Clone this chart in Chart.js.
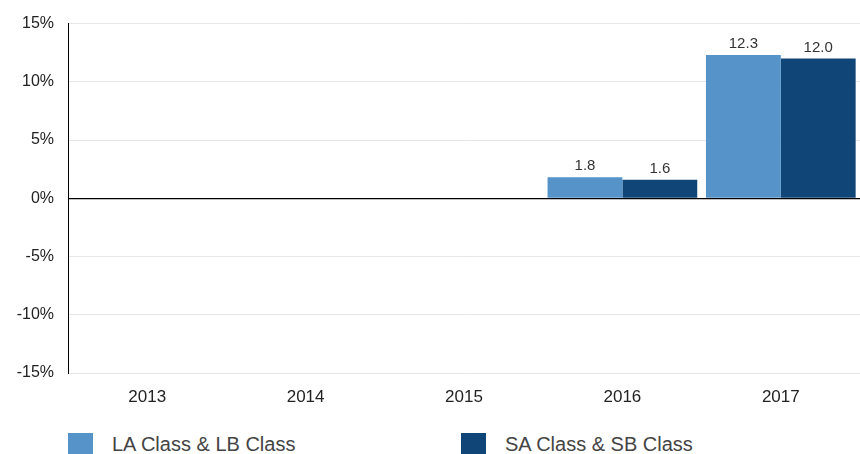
<!DOCTYPE html>
<html>
<head>
<meta charset="utf-8">
<script src="https://cdn.jsdelivr.net/npm/chart.js@4"></script>
<style>
  body { margin: 0; background: #fff; font-family: "Liberation Sans", Arial, sans-serif; }
  #wrap { position: relative; width: 860px; height: 454px; }
  #chartBox { position: absolute; left: 0; top: 0; width: 860px; height: 420px; }
  .leg { position: absolute; top: 433px; height: 22px; display: flex; align-items: center; font-size: 20px; color: #444; }
  .leg span.box { display: inline-block; width: 25px; height: 22px; margin-right: 19px; }
</style>
</head>
<body>
<div id="wrap">
  <div id="chartBox"><canvas id="chart1"></canvas></div>
  <div class="leg" style="left:68px"><span class="box" style="background:#5593c8"></span>LA Class &amp; LB Class</div>
  <div class="leg" style="left:461px"><span class="box" style="background:#104677"></span>SA Class &amp; SB Class</div>
</div>
<script>
var years = ['2013', '2014', '2015', '2016', '2017'];
var laValues = [null, null, null, 1.8, 12.3];
var saValues = [null, null, null, 1.6, 12.0];
var seriesNames = ['LA Class & LB Class', 'SA Class & SB Class'];

// draws the value above each bar
var barLabels = {
    id: 'barLabels',
    afterDatasetsDraw: function (chart) {
        var ctx = chart.ctx;
        ctx.save();
        ctx.font = '15px "Liberation Sans", Arial, sans-serif';
        ctx.fillStyle = '#333';
        ctx.textAlign = 'center';
        ctx.textBaseline = 'alphabetic';
        chart.data.datasets.forEach(function (ds, i) {
            chart.getDatasetMeta(i).data.forEach(function (bar, j) {
                var v = ds.data[j];
                if (v === null) return;
                ctx.fillText(v.toFixed(1), bar.x, bar.y - 7);
            });
        });
        ctx.restore();
    }
};

var chart1HTML = document.getElementById('chart1');
var chart1Chart = new Chart(chart1HTML, {
    type: 'bar',
    data: {
        labels: years,
        datasets: [
            { label: seriesNames[0], data: laValues, backgroundColor: '#5593c8' },
            { label: seriesNames[1], data: saValues, backgroundColor: '#104677' }
        ]
    },
    options: {
        responsive: true,
        maintainAspectRatio: false,
        animation: false,
        layout: { padding: { top: 15, right: 0, left: 0, bottom: 0 } },
        datasets: { bar: { categoryPercentage: 0.945, barPercentage: 1.0 } },
        plugins: {
            legend: { display: false },
            tooltip: { enabled: false }
        },
        scales: {
            x: {
                grid: { display: false },
                border: { display: false },
                ticks: {
                    color: '#222',
                    padding: 6,
                    font: { size: 17, family: '"Liberation Sans", Arial, sans-serif' }
                },
                afterFit: function (scale) { scale.height = 47; }
            },
            y: {
                min: -15,
                max: 15,
                border: { display: true, color: '#000', width: 1 },
                grid: {
                    drawTicks: false,
                    color: function (c) { return c.tick.value === 0 ? '#000' : '#e6e6e6'; },
                    lineWidth: function (c) { return c.tick.value === 0 ? 1.2 : 1; }
                },
                ticks: {
                    stepSize: 5,
                    color: '#222',
                    padding: 14,
                    font: { size: 16, family: '"Liberation Sans", Arial, sans-serif' },
                    callback: function (v) { return v + '%'; }
                },
                afterFit: function (scale) { scale.width = 68; }
            }
        }
    },
    plugins: [barLabels]
});
</script>
</body>
</html>
